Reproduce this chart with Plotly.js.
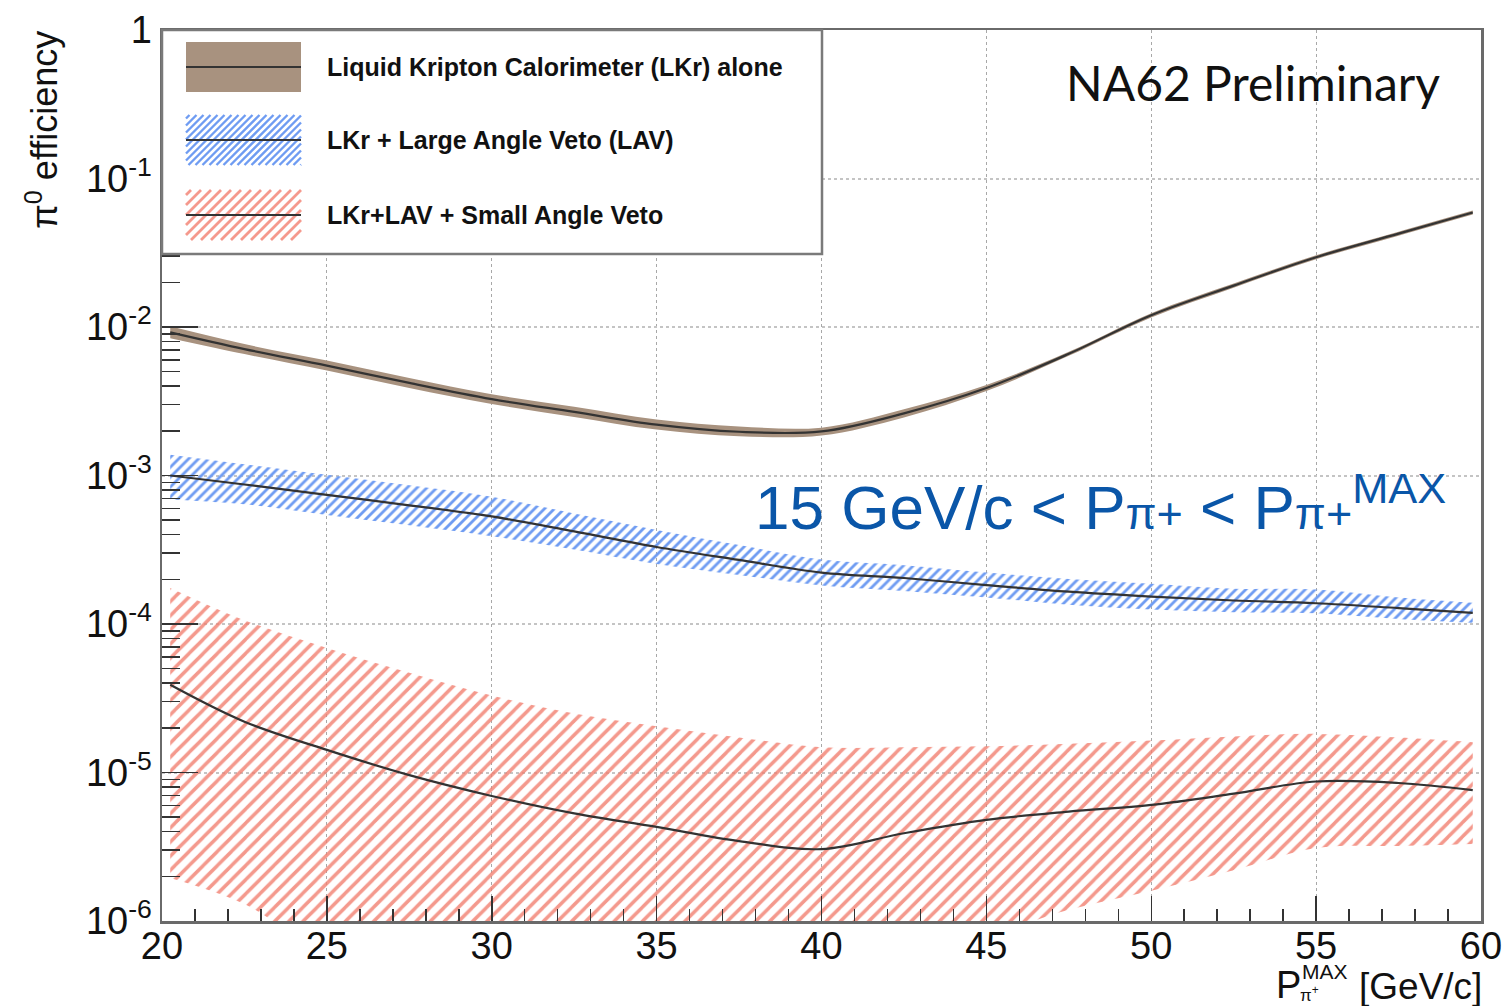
<!DOCTYPE html>
<html>
<head>
<meta charset="utf-8">
<script src="https://cdn.plot.ly/plotly-3.0.1.min.js"></script>
<style>
  html, body { margin: 0; padding: 0; background: #ffffff; }
  #chart { width: 1504px; height: 1006px; }
</style>
</head>
<body>
<div id="chart"></div>
<script>
// Maximum pi+ momentum [GeV/c]
const pMax = [20.25, 22.5, 25, 27.5, 30, 32.5, 35, 37.5, 40, 42.5, 45, 47.5, 50, 52.5, 55, 57.5, 59.75];

// Liquid Krypton calorimeter alone: central value and uncertainty band
const lkrEff  = [9.2e-3, 7.1e-3, 5.5e-3, 4.2e-3, 3.27e-3, 2.68e-3, 2.2e-3, 1.97e-3, 1.98e-3, 2.62e-3, 3.88e-3, 6.6e-3, 1.2e-2, 1.9e-2, 2.95e-2, 4.25e-2, 5.9e-2];
const lkrLow  = [8.4e-3, 6.57e-3, 5.09e-3, 3.89e-3, 3.03e-3, 2.48e-3, 2.04e-3, 1.84e-3, 1.86e-3, 2.46e-3, 3.7e-3, 6.4e-3, 1.16e-2, 1.84e-2, 2.86e-2, 4.12e-2, 5.72e-2];
const lkrHigh = [1.01e-2, 7.67e-3, 5.94e-3, 4.54e-3, 3.53e-3, 2.9e-3, 2.38e-3, 2.14e-3, 2.1e-3, 2.79e-3, 4.07e-3, 6.8e-3, 1.24e-2, 1.96e-2, 3.04e-2, 4.38e-2, 6.08e-2];

// LKr + Large Angle Veto
const lavEff  = [1.0e-3, 8.7e-4, 7.4e-4, 6.3e-4, 5.3e-4, 4.2e-4, 3.3e-4, 2.7e-4, 2.22e-4, 2.04e-4, 1.83e-4, 1.65e-4, 1.53e-4, 1.44e-4, 1.38e-4, 1.28e-4, 1.19e-4];
const lavLow  = [6.9e-4, 6.4e-4, 5.43e-4, 4.62e-4, 3.9e-4, 3.18e-4, 2.54e-4, 2.14e-4, 1.82e-4, 1.67e-4, 1.51e-4, 1.35e-4, 1.25e-4, 1.2e-4, 1.18e-4, 1.08e-4, 1.02e-4];
const lavHigh = [1.38e-3, 1.19e-3, 1.01e-3, 8.6e-4, 7.2e-4, 5.55e-4, 4.3e-4, 3.4e-4, 2.72e-4, 2.49e-4, 2.22e-4, 2.01e-4, 1.87e-4, 1.73e-4, 1.71e-4, 1.51e-4, 1.39e-4];

// LKr + LAV + Small Angle Veto
const savEff  = [3.9e-5, 2.2e-5, 1.42e-5, 9.6e-6, 6.95e-6, 5.3e-6, 4.3e-6, 3.45e-6, 3.05e-6, 3.9e-6, 4.8e-6, 5.45e-6, 6.05e-6, 7.2e-6, 8.7e-6, 8.5e-6, 7.6e-6];
const savLow  = [1.95e-6, 1.3e-6, 6.0e-7, 4.5e-7, 4.0e-7, 3.8e-7, 3.8e-7, 4.2e-7, 5.2e-7, 6.5e-7, 8.0e-7, 1.19e-6, 1.6e-6, 2.2e-6, 3.1e-6, 3.2e-6, 3.3e-6];
const savHigh = [1.75e-4, 1.06e-4, 6.9e-5, 4.7e-5, 3.3e-5, 2.5e-5, 2.05e-5, 1.72e-5, 1.48e-5, 1.48e-5, 1.5e-5, 1.56e-5, 1.64e-5, 1.75e-5, 1.82e-5, 1.72e-5, 1.6e-5];

// Axis ticks
const yTickVals = [1e-6, 1e-5, 1e-4, 1e-3, 1e-2, 1e-1, 1];
const yTickText = ['10<sup>-6</sup>', '10<sup>-5</sup>', '10<sup>-4</sup>', '10<sup>-3</sup>', '10<sup>-2</sup>', '10<sup>-1</sup>', '1'];
const legendLabels = [
  'Liquid Kripton Calorimeter (LKr) alone',
  'LKr + Large Angle Veto (LAV)',
  'LKr+LAV + Small Angle Veto'
];

const FONT = 'Liberation Sans, Arial, Helvetica, sans-serif';
const LINE = '#333333';
const BROWN = '#a8927f';
const BLUE = '#6f9cf2';
const RED = 'rgba(242,128,112,0.8)';

// minor ticks on the log axis: 2..9 inside every decade
const yMinor = [];
for (let e = -6; e < 0; e++) {
  for (let m = 2; m <= 9; m++) yMinor.push(m * Math.pow(10, e));
}

function band(low, high, fill) {
  const lower = {
    x: pMax, y: low, mode: 'lines', line: {width: 0, shape: 'spline'},
    hoverinfo: 'skip', showlegend: false
  };
  const upper = Object.assign({
    x: pMax, y: high, mode: 'lines', line: {width: 0, shape: 'spline'},
    fill: 'tonexty', hoverinfo: 'skip', showlegend: false
  }, fill);
  return [lower, upper];
}
function centre(vals) {
  return {x: pMax, y: vals, mode: 'lines', line: {color: LINE, width: 2.2, shape: 'spline'}, showlegend: false};
}

const traces = [].concat(
  band(savLow, savHigh, {fillcolor: 'rgba(0,0,0,0)',
    fillpattern: {shape: '/', size: 10, solidity: 0.35, fgcolor: RED, bgcolor: 'rgba(0,0,0,0)', fillmode: 'replace'}}),
  band(lavLow, lavHigh, {fillcolor: 'rgba(0,0,0,0)',
    fillpattern: {shape: '/', size: 7, solidity: 0.4, fgcolor: BLUE, bgcolor: 'rgba(0,0,0,0)', fillmode: 'replace'}}),
  band(lkrLow, lkrHigh, {fillcolor: BROWN}),
  [centre(savEff), centre(lavEff), centre(lkrEff)]
);

// frame in pixels, used to place the legend box and texts
const L = 162, R = 1481, T = 30, B = 921;
const px = x => (x - L) / (R - L);
const py = y => (B - y) / (B - T);

function hatchPath(x0, y0, x1, y1, s) {
  let p = '';
  for (let k = x0 + y0 + s / 2; k < x1 + y1; k += s) {
    const sx = Math.max(x0, k - y1), ex = Math.min(x1, k - y0);
    if (ex > sx) p += `M${px(sx)},${py(k - sx)} L${px(ex)},${py(k - ex)} `;
  }
  return p;
}

const rowY = [67, 140, 215];
const shapes = [
  // legend box
  {type: 'rect', xref: 'paper', yref: 'paper', layer: 'above',
   x0: px(162), x1: px(822), y0: py(254), y1: py(30),
   fillcolor: '#ffffff', line: {color: '#7a7a7a', width: 2.5}},
  // LKr swatch
  {type: 'rect', xref: 'paper', yref: 'paper', layer: 'above',
   x0: px(186), x1: px(301), y0: py(rowY[0] + 25), y1: py(rowY[0] - 25),
   fillcolor: BROWN, line: {width: 0}},
  // LAV swatch
  {type: 'path', xref: 'paper', yref: 'paper', layer: 'above',
   path: hatchPath(186, rowY[1] - 25, 301, rowY[1] + 25, 7), line: {color: BLUE, width: 2.4}},
  // SAV swatch
  {type: 'path', xref: 'paper', yref: 'paper', layer: 'above',
   path: hatchPath(186, rowY[2] - 25, 301, rowY[2] + 25, 10), line: {color: RED, width: 2.8}}
];
rowY.forEach(y => shapes.push({
  type: 'line', xref: 'paper', yref: 'paper', layer: 'above',
  x0: px(186), x1: px(301), y0: py(y), y1: py(y), line: {color: LINE, width: 2.2}
}));

const annotations = legendLabels.map((t, i) => ({
  xref: 'paper', yref: 'paper', x: px(325), y: py(rowY[i]), xanchor: 'left', yanchor: 'middle',
  text: '<b>' + t + '</b>', showarrow: false, font: {family: FONT, size: 25, color: '#111'}
}));
annotations.push(
  {xref: 'paper', yref: 'paper', x: px(1442), y: py(83), xanchor: 'right', yanchor: 'middle',
   text: 'NA62 Preliminary', showarrow: false, font: {family: 'Lato, Open Sans, sans-serif', size: 48, color: '#111'}},
  {xref: 'paper', yref: 'paper', x: px(753), y: py(503), xanchor: 'left', yanchor: 'middle',
   text: '15 GeV/c &lt; P<span style="font-size:45px">π+</span> &lt; P<span style="font-size:45px">π+</span><sup>MAX</sup>',
   showarrow: false, font: {family: FONT, size: 62, color: '#0a56a8'}},
  // y-axis title
  {xref: 'paper', yref: 'paper', x: px(42), y: py(29), xanchor: 'center', yanchor: 'top', textangle: -90,
   text: 'π<sup>0</sup> efficiency', showarrow: false, font: {family: FONT, size: 36, color: '#111'}},
  // x-axis title pieces
  {xref: 'paper', yref: 'paper', x: px(1274), y: py(985), xanchor: 'left', yanchor: 'middle',
   text: 'P', showarrow: false, font: {family: FONT, size: 38, color: '#111'}},
  {xref: 'paper', yref: 'paper', x: px(1300), y: py(971), xanchor: 'left', yanchor: 'middle',
   text: 'MAX', showarrow: false, font: {family: FONT, size: 21, color: '#111'}},
  {xref: 'paper', yref: 'paper', x: px(1298), y: py(994), xanchor: 'left', yanchor: 'middle',
   text: 'π<sup>+</sup>', showarrow: false, font: {family: FONT, size: 17, color: '#111'}},
  {xref: 'paper', yref: 'paper', x: px(1484), y: py(987), xanchor: 'right', yanchor: 'middle',
   text: '[GeV/c]', showarrow: false, font: {family: FONT, size: 37, color: '#111'}}
);

const layout = {
  width: 1504, height: 1006,
  margin: {l: L, r: 1504 - R, t: T, b: 1006 - B, pad: 0},
  paper_bgcolor: '#ffffff', plot_bgcolor: '#ffffff',
  showlegend: false,
  xaxis: {
    range: [20, 60], dtick: 5, tick0: 20,
    ticks: 'inside', ticklen: 25, tickwidth: 1.5, tickcolor: '#333',
    ticklabelstandoff: -10,
    minor: {dtick: 1, ticks: 'inside', ticklen: 12, tickwidth: 1.5, tickcolor: '#333', showgrid: false},
    showgrid: true, gridcolor: '#a8a8a8', gridwidth: 1, griddash: 'dot',
    showline: true, linecolor: '#6a6a6a', linewidth: 2.5, mirror: true,
    zeroline: false,
    tickfont: {family: FONT, size: 38, color: '#111'}
  },
  yaxis: {
    type: 'log', range: [-6, 0],
    tickmode: 'array', tickvals: yTickVals, ticktext: yTickText,
    ticks: 'inside', ticklen: 36, tickwidth: 1.5, tickcolor: '#333',
    minor: {tickmode: 'array', tickvals: yMinor, ticks: 'inside', ticklen: 18, tickwidth: 1.5, tickcolor: '#333', showgrid: false},
    showgrid: true, gridcolor: '#c4c4c4', gridwidth: 2, griddash: 'dot',
    showline: true, linecolor: '#6a6a6a', linewidth: 2.5, mirror: true,
    zeroline: false,
    tickfont: {family: FONT, size: 38, color: '#111'}
  },
  shapes: shapes,
  annotations: annotations
};

Plotly.newPlot('chart', traces, layout, {staticPlot: true, displayModeBar: false});
</script>
</body>
</html>
